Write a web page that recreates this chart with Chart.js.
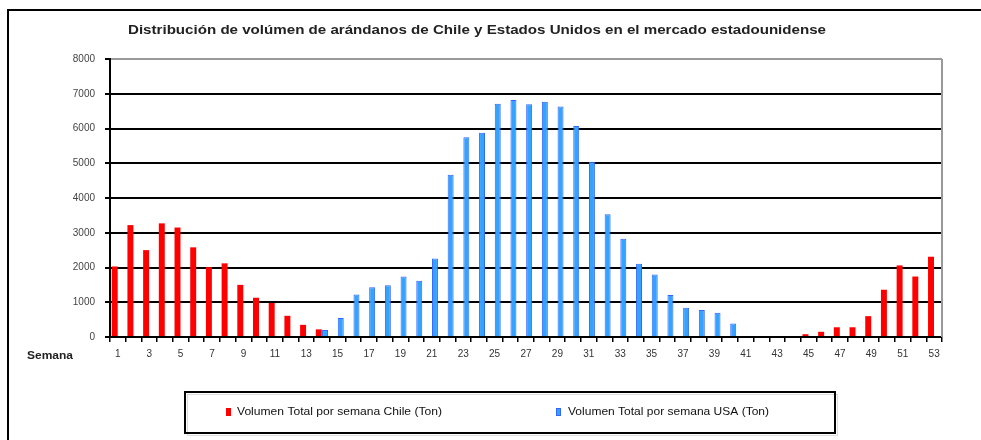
<!DOCTYPE html>
<html>
<head>
<meta charset="utf-8">
<script src="https://cdn.jsdelivr.net/npm/chart.js@4/dist/chart.umd.min.js"></script>
<style>
  html, body { margin: 0; padding: 0; background: #fff; }
  #wrap { width: 981px; height: 440px; position: relative; }
</style>
</head>
<body>
<div id="wrap"><canvas id="myChart"></canvas></div>
<script>
'use strict';

// weeks of the year
let semanas = ['1', '2', '3', '4', '5', '6', '7', '8', '9', '10', '11', '12', '13', '14', '15', '16', '17', '18',
  '19', '20', '21', '22', '23', '24', '25', '26', '27', '28', '29', '30', '31', '32', '33', '34', '35', '36',
  '37', '38', '39', '40', '41', '42', '43', '44', '45', '46', '47', '48', '49', '50', '51', '52', '53'];

// tons per week
let chile = [2030, 3220, 2500, 3270, 3150, 2580, 2010, 2120, 1500, 1130, 980, 610, 350, 220, 0, 0, 0, 0,
  0, 0, 0, 0, 0, 0, 0, 0, 0, 0, 0, 0, 0, 0, 0, 0, 0, 0,
  0, 0, 0, 0, 0, 0, 0, 0, 80, 150, 280, 280, 600, 1360, 2060, 1740, 2310];
let usa = [0, 0, 0, 0, 0, 0, 0, 0, 0, 0, 0, 0, 0, 200, 550, 1220, 1430, 1490,
  1740, 1620, 2260, 4670, 5750, 5880, 6710, 6820, 6700, 6770, 6630, 6070, 5040, 3530, 2830, 2110, 1800, 1210,
  840, 780, 700, 390, 0, 0, 0, 0, 0, 0, 0, 0, 0, 0, 0, 0, 0];

let yTicks = [0, 1000, 2000, 3000, 4000, 5000, 6000, 7000, 8000];

let titulo = 'Distribución de volúmen de arándanos de Chile y Estados Unidos en el mercado estadounidense';
let ejeX = 'Semana';

const FONT = '"Liberation Sans", Arial, sans-serif';

// draw text squeezed/stretched to a given width
function fitText(ctx, text, x, y, w) {
  let m = ctx.measureText(text).width;
  ctx.save();
  ctx.translate(x, y);
  ctx.scale(w / m, 1);
  ctx.fillText(text, 0, 0);
  ctx.restore();
}

// frame, title, axis caption, right border and boxed legend
const decor = {
  id: 'decor',
  beforeDraw(chart) {
    const ctx = chart.ctx;
    ctx.save();
    ctx.fillStyle = '#fff';
    ctx.fillRect(0, 0, chart.width, chart.height);
    ctx.restore();
  },
  afterDraw(chart) {
    const ctx = chart.ctx;
    const area = chart.chartArea;
    ctx.save();

    // outer frame
    ctx.strokeStyle = '#000';
    ctx.lineWidth = 2;
    ctx.strokeRect(8, 10, chart.width + 20, chart.height + 20);

    // right edge of plot
    ctx.strokeStyle = '#999';
    ctx.lineWidth = 2;
    ctx.beginPath();
    ctx.moveTo(area.right, area.top);
    ctx.lineTo(area.right, area.bottom);
    ctx.stroke();

    // title
    ctx.fillStyle = '#222';
    ctx.textBaseline = 'middle';
    ctx.textAlign = 'left';
    ctx.font = 'bold 13px ' + FONT;
    fitText(ctx, titulo, 128, 30, 698);

    // axis caption
    ctx.font = 'bold 10px ' + FONT;
    fitText(ctx, ejeX, 27, 356, 46);

    // legend box
    ctx.fillStyle = '#fff';
    ctx.fillRect(185, 392, 650, 41);
    ctx.strokeStyle = '#ddd';
    ctx.lineWidth = 1;
    ctx.strokeRect(187.5, 394.5, 650, 41);
    ctx.strokeStyle = '#000';
    ctx.lineWidth = 2;
    ctx.strokeRect(185, 392, 650, 41);

    const items = [
      { x: 226, tx: 237, w: 205 },
      { x: 556, tx: 568, w: 201 }
    ];
    ctx.font = '11px ' + FONT;
    chart.data.datasets.forEach(function (ds, i) {
      let it = items[i];
      ctx.fillStyle = ds.backgroundColor;
      ctx.fillRect(it.x, 408, 5, 8);
      if (ds.borderWidth) {
        ctx.strokeStyle = ds.borderColor;
        ctx.lineWidth = 1;
        ctx.strokeRect(it.x + 0.5, 408.5, 4, 7);
      }
      ctx.fillStyle = '#111';
      fitText(ctx, ds.label, it.tx, 412, it.w);
    });

    ctx.restore();
  }
};

const data = {
  labels: semanas,
  datasets: [
    {
      label: 'Volumen Total por semana Chile (Ton)',
      data: chile,
      backgroundColor: '#ff0000',
      borderWidth: 0,
      barPercentage: 0.95,
      categoryPercentage: 0.8
    },
    {
      label: 'Volumen Total por semana USA (Ton)',
      data: usa,
      backgroundColor: '#33a3ff',
      borderColor: '#3366ff',
      borderWidth: 1,
      barPercentage: 0.95,
      categoryPercentage: 0.8
    }
  ]
};

const config = {
  type: 'bar',
  data: data,
  plugins: [decor],
  options: {
    responsive: true,
    maintainAspectRatio: false,
    animation: false,
    layout: { padding: { left: 0, right: 39, top: 59, bottom: 0 } },
    plugins: {
      legend: { display: false },
      title: { display: false },
      tooltip: { enabled: false }
    },
    scales: {
      x: {
        afterFit(scale) { scale.height = 103; },
        border: { color: '#000', width: 2 },
        grid: {
          offset: true,
          drawOnChartArea: false,
          drawTicks: true,
          tickLength: 5,
          color: '#000',
          lineWidth: 1.5
        },
        ticks: {
          autoSkip: false,
          maxRotation: 0,
          padding: 6,
          color: '#333',
          font: { family: FONT, size: 10 },
          callback: function (val, i) {
            return i % 2 === 0 ? this.getLabelForValue(val) : '';
          }
        }
      },
      y: {
        min: yTicks[0],
        max: yTicks[yTicks.length - 1],
        afterFit(scale) { scale.width = 110; },
        afterBuildTicks(scale) {
          scale.ticks = yTicks.map(v => ({ value: v }));
        },
        border: { color: '#000', width: 2 },
        grid: {
          color: ctx => (ctx.tick && ctx.tick.value === 8000 ? '#999' : '#000'),
          lineWidth: 2,
          tickColor: '#000',
          tickLength: 5
        },
        ticks: {
          padding: 10,
          color: '#444',
          font: { family: FONT, size: 10 },
          callback: v => String(v)
        }
      }
    }
  }
};

const myChart = new Chart(document.getElementById('myChart'), config);
</script>
</body>
</html>
